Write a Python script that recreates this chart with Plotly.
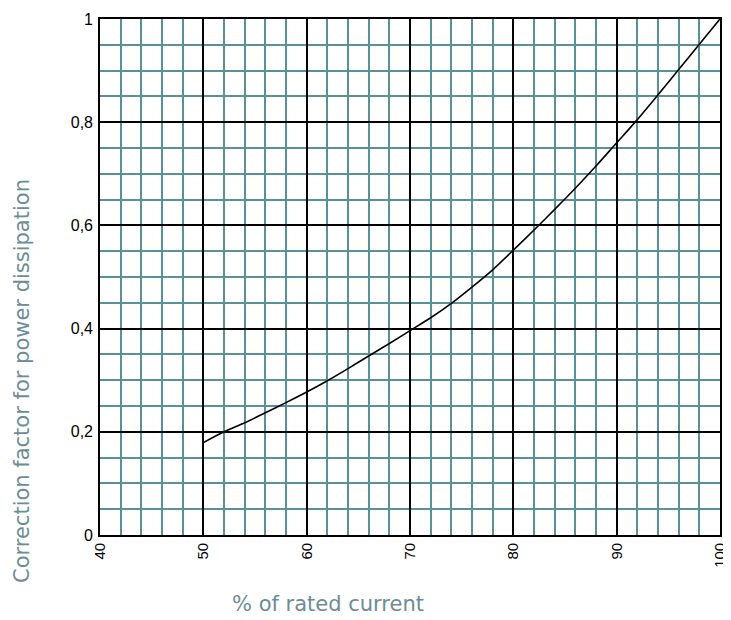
import plotly.graph_objects as go

# Data
rated_current_pct = [50, 52, 54, 56, 58, 60, 62, 64, 66, 68, 70, 72, 74, 76, 78, 80,
                     82, 84, 86, 88, 90, 92, 94, 96, 98, 100]
correction_factor = [0.179, 0.200, 0.2175, 0.237, 0.2565, 0.277, 0.299, 0.3225, 0.347, 0.371,
                     0.396, 0.421, 0.449, 0.4805, 0.514, 0.552, 0.591, 0.631, 0.672, 0.715,
                     0.760, 0.805, 0.853, 0.902, 0.951, 1.0]

x_tick_vals = [40, 50, 60, 70, 80, 90, 100]
x_tick_text = ["40", "50", "60", "70", "80", "90", "100"]
y_tick_vals = [0, 0.2, 0.4, 0.6, 0.8, 1.0]
y_tick_text = ["0", "0,2", "0,4", "0,6", "0,8", "1"]

x_title = "% of rated current"
y_title = "Correction factor for power dissipation"

GRID_MINOR = "#5a9099"
TITLE_COLOR = "#6c8c97"

fig = go.Figure()
fig.add_trace(go.Scatter(x=rated_current_pct, y=correction_factor, mode="lines",
                         line=dict(color="black", width=1.6, shape="spline", smoothing=0.8),
                         showlegend=False, hoverinfo="skip"))

# the page body has an 8px margin, so the figure is sized to fit inside the window
fig.update_layout(
    width=723, height=612,
    margin=dict(l=92, r=11, t=11, b=85, autoexpand=False),
    paper_bgcolor="white", plot_bgcolor="white",
    font=dict(family="Liberation Sans, Arial, sans-serif", color="black", size=15),
    xaxis=dict(range=[40, 100], tickvals=x_tick_vals, ticktext=x_tick_text,
               tickangle=-90, tickfont=dict(size=15, color="black"), automargin=False,
               showgrid=True, gridcolor="black", gridwidth=1.5,
               minor=dict(dtick=2, tick0=40, showgrid=True, gridcolor=GRID_MINOR, gridwidth=1.8),
               showline=True, linecolor="black", linewidth=1.6, mirror=True,
               zeroline=False, ticks="", fixedrange=True),
    yaxis=dict(range=[0, 1], tickvals=y_tick_vals, ticktext=y_tick_text,
               tickfont=dict(size=16, color="black"), automargin=False,
               showgrid=True, gridcolor="black", gridwidth=1.5,
               minor=dict(dtick=0.05, tick0=0, showgrid=True, gridcolor=GRID_MINOR, gridwidth=1.8),
               showline=True, linecolor="black", linewidth=1.6, mirror=True,
               zeroline=False, ticks="", ticklabelstandoff=2, fixedrange=True),
    annotations=[
        dict(text=x_title, xref="paper", yref="paper", x=(328 - 100) / 620, y=-(604 - 535) / 516,
             showarrow=False, xanchor="center", yanchor="middle",
             font=dict(family="DejaVu Sans, sans-serif", size=21, color=TITLE_COLOR)),
        dict(text=y_title, xref="paper", yref="paper", x=-(100 - 22) / 620, y=(535 - 381) / 516,
             showarrow=False, textangle=-90, xanchor="center", yanchor="middle",
             font=dict(family="DejaVu Sans, sans-serif", size=21, color=TITLE_COLOR)),
    ],
)

fig.write_html("out.html")
